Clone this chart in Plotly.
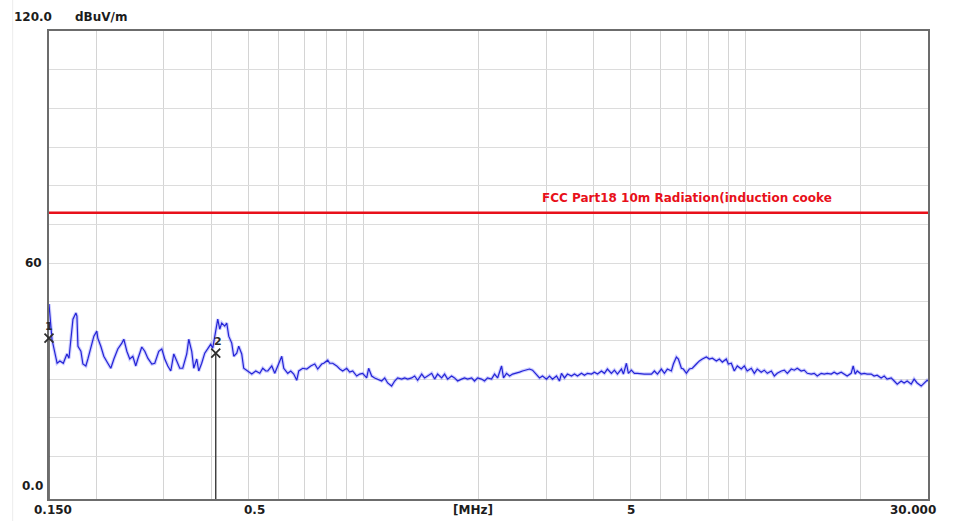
import math
import plotly.graph_objects as go

# Swept emission trace: frequency (MHz) and level (dBuV/m)
freq_mhz = [
    0.150, 0.1509, 0.1527, 0.1575, 0.1602, 0.1635, 0.1671, 0.1692, 0.1712, 0.1733,
    0.1764, 0.1775, 0.1786, 0.1818, 0.1840, 0.1873, 0.1896, 0.1930, 0.1966, 0.2001,
    0.2013, 0.2050, 0.2087, 0.2138, 0.2177, 0.2218, 0.2271, 0.2327, 0.2355, 0.2398,
    0.2441, 0.2486, 0.2531, 0.2562, 0.2624, 0.2672, 0.2721, 0.2788, 0.2838, 0.2907,
    0.2960, 0.3014, 0.3069, 0.3125, 0.3182, 0.3240, 0.3299, 0.3359, 0.3441, 0.3483,
    0.3546, 0.3589, 0.3655, 0.3699, 0.3766, 0.3835, 0.3905, 0.3976, 0.4025, 0.4098,
    0.4148, 0.4198, 0.4249, 0.4327, 0.4379, 0.4432, 0.4513, 0.4568, 0.4651, 0.4707,
    0.4793, 0.4851, 0.4970, 0.5092, 0.5216, 0.5344, 0.5441, 0.5541,
    0.5608, 0.5745, 0.5849, 0.5992, 0.6101, 0.6175, 0.6325, 0.6441, 0.6558, 0.6678,
    0.6759, 0.6924, 0.7093, 0.7265, 0.7443, 0.7578, 0.7763, 0.7857, 0.8049, 0.8145,
    0.8294, 0.8496, 0.8652, 0.8808, 0.9024, 0.9188, 0.9356, 0.9584, 0.9759, 0.9936,
    1.018, 1.030, 1.049, 1.068, 1.088, 1.114, 1.135, 1.155, 1.183, 1.205,
    1.227, 1.257, 1.280, 1.303, 1.335, 1.359, 1.384, 1.418, 1.443, 1.470,
    1.506, 1.533, 1.561, 1.599, 1.628, 1.658, 1.698, 1.729, 1.761, 1.803,
    1.836, 1.870, 1.916, 1.950, 1.986, 2.034, 2.071,
    2.109, 2.160, 2.200, 2.241, 2.295, 2.322, 2.365, 2.409, 2.453, 2.512,
    2.558, 2.604, 2.667, 2.716, 2.766, 2.833, 2.885, 2.937, 3.009, 3.064,
    3.120, 3.196, 3.254, 3.293, 3.354, 3.415, 3.498, 3.562, 3.627, 3.715,
    3.783, 3.852, 3.945, 4.017, 4.092, 4.191, 4.266, 4.344, 4.450, 4.531,
    4.614, 4.727, 4.784, 4.871, 4.929, 5.019, 5.111, 5.205, 5.331, 5.429,
    5.529, 5.664, 5.766, 5.873, 6.014, 6.124, 6.236, 6.388, 6.465, 6.584,
    6.663, 6.785, 6.867, 6.992, 7.119, 7.249, 7.426, 7.562, 7.700, 7.887,
    8.031, 8.178, 8.378, 8.530, 8.686, 8.894, 9.002, 9.167, 9.333, 9.504,
    9.735, 9.914, 10.09, 10.34, 10.53, 10.72, 10.98, 11.18, 11.39, 11.67,
    11.88, 12.09, 12.39, 12.62, 12.85, 13.16, 13.40, 13.64, 13.97, 14.23,
    14.49, 14.84, 15.11, 15.39, 15.76, 16.05, 16.35, 16.74, 17.04, 17.35,
    17.78, 18.10, 18.43, 18.88, 19.11, 19.34, 19.58, 20.05, 20.42, 20.79,
    21.30, 21.68, 22.08, 22.62, 23.04, 23.45, 24.03, 24.47, 24.92, 25.52,
    25.98, 26.46, 27.11, 27.59, 28.10, 28.79, 29.31, 29.84, 30.0,
]
level_dbuv = [
    49.4, 46.3, 40.3, 34.1, 34.7, 34.1, 36.5, 35.4, 41.1, 45.5,
    47.1, 46.3, 38.5, 37.2, 33.9, 33.4, 35.2, 38.5, 41.1, 42.4,
    40.6, 38.5, 35.9, 34.1, 32.8, 35.2, 37.8, 39.3, 40.3, 37.2,
    35.2, 35.9, 33.4, 35.2, 38.3, 37.2, 35.4, 33.9, 34.1, 37.2,
    37.8, 35.2, 33.4, 32.1, 36.5, 34.7, 32.8, 32.8, 36.5, 40.3,
    37.2, 32.8, 35.2, 32.1, 34.1, 36.7, 37.8, 39.0, 38.0, 41.9,
    45.5, 42.9, 44.5, 43.7, 44.5, 41.1, 39.3, 35.9, 36.7, 38.5,
    36.5, 32.8, 32.1, 31.3, 32.1, 31.5, 32.8, 32.1,
    32.1, 33.4, 31.5, 34.1, 35.9, 32.8, 31.5, 32.1, 31.3, 29.7,
    32.1, 32.8, 32.6, 33.4, 33.9, 32.6, 33.9, 34.1, 34.9, 34.1,
    34.1, 33.4, 32.6, 32.1, 32.8, 31.8, 32.1, 30.8, 31.3, 31.5,
    30.3, 32.8, 30.8, 30.3, 30.0, 29.5, 30.3, 29.0, 28.2, 29.5,
    30.3, 30.0, 30.3, 30.0, 30.3, 30.8, 29.7, 31.3, 30.3, 30.8,
    31.5, 30.0, 31.3, 30.3, 31.3, 30.0, 30.8, 30.3, 29.5, 30.0,
    30.3, 30.0, 30.3, 29.5, 30.3, 30.0, 29.5,
    30.3, 30.0, 31.3, 30.3, 33.4, 30.3, 31.5, 30.8, 31.3, 31.5,
    31.8, 32.1, 32.3, 32.6, 32.3, 31.3, 30.3, 30.8, 30.0, 30.8,
    30.0, 30.8, 29.5, 31.5, 30.3, 31.3, 30.8, 31.3, 30.8, 31.5,
    31.0, 31.5, 31.3, 31.8, 31.3, 32.1, 31.5, 32.6, 31.5, 32.3,
    31.3, 32.6, 31.3, 34.1, 31.5, 32.3, 31.5, 31.5, 31.3, 31.3,
    31.3, 31.3, 32.1, 31.3, 32.6, 31.5, 32.6, 32.1, 33.9, 35.7,
    35.2, 32.8, 32.6, 31.5, 32.6, 32.8, 33.9, 34.7, 35.2, 35.7,
    35.2, 35.4, 34.7, 35.2, 34.4, 35.2, 33.9, 34.1, 32.1, 33.4,
    32.6, 33.4, 32.1, 32.8, 31.5, 32.6, 31.8, 32.3, 31.5, 32.1,
    30.8, 31.5, 32.1, 32.3, 31.5, 32.6, 32.3, 32.8, 32.1, 32.3,
    31.5, 31.3, 31.5, 30.8, 31.5, 31.3, 31.5, 31.3, 31.8, 31.3,
    31.8, 31.3, 30.8, 31.5, 33.4, 31.3, 32.1, 31.3, 31.5, 31.3,
    31.3, 30.8, 31.0, 30.3, 30.8, 30.0, 30.3, 29.5, 28.7, 29.5,
    29.0, 29.5, 28.7, 30.0, 29.0, 28.2, 29.0, 29.7, 29.5,
]

# Limit line
limit_label = "FCC Part18 10m Radiation(induction cooke"
limit_freq = [0.15, 30.0]
limit_level = [73.0, 73.0]

# Measurement markers
marker_ids = ["1", "2"]
marker_freq = [0.150, 0.4098]
marker_level = [40.6, 36.7]

# Axes
x_range = [0.15, 30.0]
y_range = [-1.0, 120.0]
x_grid = [0.2, 0.3, 0.4, 0.5, 0.6, 0.7, 0.8, 0.9, 1, 2, 3, 4, 5, 6, 7, 8, 9, 10, 20]
y_grid = [10, 20, 30, 40, 50, 60, 70, 80, 90, 100, 110]
x_tick_vals = [0.15, 0.5, 5, 30.0]
x_tick_text = ["0.150", "0.5", "5", "30.000"]
x_tick_shift = [4, 6, 0, -15]
y_tick_vals = [0.0, 60, 120.0]
y_tick_text = ["0.0", "60", "120.0"]
y_unit = "dBuV/m"
x_unit = "[MHz]"

FONT = dict(family="DejaVu Sans", size=12, color="#1c1c1c", weight="bold")
TRACE_BLUE = "#2424d6"

fig = go.Figure()

# soft halo under the trace
fig.add_trace(go.Scatter(
    x=freq_mhz, y=level_dbuv, mode="lines",
    line=dict(color="rgba(90,90,255,0.30)", width=3.4),
    hoverinfo="skip", showlegend=False,
))
fig.add_trace(go.Scatter(
    x=freq_mhz, y=level_dbuv, mode="lines",
    line=dict(color=TRACE_BLUE, width=1.2),
    showlegend=False,
))

fig.add_trace(go.Scatter(
    x=limit_freq, y=limit_level, mode="lines",
    line=dict(color="#e8101a", width=2.6),
    showlegend=False,
))

# marker drop lines
for f, lv in zip(marker_freq, marker_level):
    fig.add_trace(go.Scatter(
        x=[f, f], y=[y_range[0], lv], mode="lines",
        line=dict(color="#3a3a3a", width=1.4),
        showlegend=False, hoverinfo="skip", cliponaxis=False,
    ))

fig.add_trace(go.Scatter(
    x=marker_freq, y=marker_level, mode="markers",
    marker=dict(symbol="x-thin", size=9, line=dict(color="#2e2e2e", width=1.8)),
    showlegend=False, cliponaxis=False,
))

annotations = []
for mid, f, lv, dx in zip(marker_ids, marker_freq, marker_level, [0, 2]):
    annotations.append(dict(
        x=math.log10(f), y=lv, xref="x", yref="y", text=mid, showarrow=False,
        yshift=12, xshift=dx,
        font=dict(family="DejaVu Sans", size=11, color="#2a2a2a", weight="bold"),
    ))

annotations.append(dict(
    x=math.log10(limit_freq[1]), y=limit_level[0], xref="x", yref="y",
    text=limit_label, showarrow=False, xanchor="left", yanchor="middle",
    xshift=-388, yshift=15,
    font=dict(family="DejaVu Sans", size=12, color="#e8101a", weight="bold"),
))

for v, t, dx in zip(x_tick_vals, x_tick_text, x_tick_shift):
    annotations.append(dict(
        x=math.log10(v), y=0, xref="x", yref="paper", text=t, showarrow=False,
        yanchor="middle", yshift=-11, xshift=dx, font=FONT,
    ))
annotations.append(dict(
    x=0.4824, y=0, xref="paper", yref="paper", text=x_unit, showarrow=False,
    yanchor="middle", yshift=-11, font=FONT,
))

y_label_style = {
    "0.0": dict(xshift=-4, yshift=9),
    "60": dict(xshift=-5, yshift=0),
    "120.0": dict(xshift=5, yshift=14),
}
for v, t in zip(y_tick_vals, y_tick_text):
    st = y_label_style[t]
    annotations.append(dict(
        x=0, y=v, xref="paper", yref="y", text=t, showarrow=False,
        xanchor="right", yanchor="middle", xshift=st["xshift"], yshift=st["yshift"],
        font=FONT,
    ))
annotations.append(dict(
    x=0, y=y_range[1], xref="paper", yref="y", text=y_unit, showarrow=False,
    xanchor="left", yanchor="middle", xshift=24, yshift=14, font=FONT,
))

fig.update_layout(
    width=954, height=521,
    margin=dict(l=49, r=26, t=31, b=22),
    paper_bgcolor="white", plot_bgcolor="white",
    annotations=annotations,
    shapes=[dict(
        type="line", xref="paper", yref="paper",
        x0=-0.0413, x1=-0.0413, y0=-0.05, y1=1.07,
        line=dict(color="#ececec", width=1),
    )],
)
fig.update_xaxes(
    type="log", range=[math.log10(x_range[0]), math.log10(x_range[1])],
    tickvals=x_grid, showticklabels=False, ticks="",
    showgrid=True, gridcolor="#d4d4d4", gridwidth=1,
    showline=True, linecolor="#6c6c6c", linewidth=2, mirror=True,
    zeroline=False, layer="below traces",
)
fig.update_yaxes(
    range=y_range, tickvals=y_grid, showticklabels=False, ticks="",
    showgrid=True, gridcolor="#dcdcdc", gridwidth=1,
    showline=True, linecolor="#6c6c6c", linewidth=2, mirror=True,
    zeroline=False, layer="below traces",
)

fig.write_html("out.html")
